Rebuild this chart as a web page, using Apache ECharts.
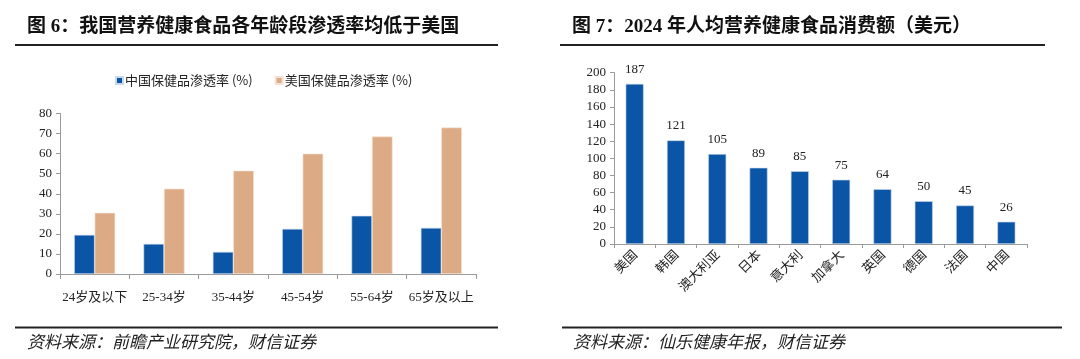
<!DOCTYPE html>
<html>
<head>
<meta charset="utf-8">
<script src="https://cdn.jsdelivr.net/npm/echarts@6/dist/echarts.min.js"></script>
<style>
html,body{margin:0;padding:0;background:#fff;}
#c{width:1080px;height:359px;}
</style>
</head>
<body>
<div id="c"></div>
<script>
// Figure 6 data
const ageGroups = ['24岁及以下', '25-34岁', '35-44岁', '45-54岁', '55-64岁', '65岁及以上'];
const chinaRate = [19.5, 15, 11, 22.5, 29, 23];
const usRate = [30.5, 42.5, 51.5, 60, 68.5, 73];
const seriesNames = ['中国保健品渗透率 (%)', '美国保健品渗透率 (%)'];
const leftTicks = {min: 0, max: 80, interval: 10};

// Figure 7 data
const countries = ['美国', '韩国', '澳大利亚', '日本', '意大利', '加拿大', '英国', '德国', '法国', '中国'];
const spend = [187, 121, 105, 89, 85, 75, 64, 50, 45, 26];
const rightTicks = {min: 0, max: 200, interval: 20};

const title6 = '图 6：我国营养健康食品各年龄段渗透率均低于美国';
const title7 = '图 7：2024 年人均营养健康食品消费额（美元）';
const source6 = '资料来源：前瞻产业研究院，财信证券';
const source7 = '资料来源：仙乐健康年报，财信证券';

const BLUE = '#0b55a6';
const TAN = '#dcaa84';
const AX = '#9a9a9a';
const FONT = "'Liberation Serif', 'Noto Sans CJK SC', serif";

const chart = echarts.init(document.getElementById('c'));

function axisCommon() {
  return {
    axisLine: {show: true, lineStyle: {color: AX, width: 1}},
    axisTick: {show: true, lineStyle: {color: AX}, length: 4},
    splitLine: {show: false}
  };
}

chart.setOption({
  animation: false,
  backgroundColor: '#fff',
  legend: {
    data: seriesNames,
    left: 110,
    top: 69,
    itemWidth: 7,
    itemHeight: 7,
    itemGap: 22,
    icon: 'rect',
    textStyle: {fontFamily: "'Noto Sans CJK SC', sans-serif", fontSize: 13, color: '#222', padding: [0, 0, 0, -3]}
  },
  grid: [
    {left: 60, top: 113.5, width: 416, height: 160.5},
    {left: 614, top: 72.7, width: 413, height: 171.3}
  ],
  xAxis: [
    Object.assign(axisCommon(), {
      gridIndex: 0, type: 'category', data: ageGroups,
      axisTick: {show: true, alignWithLabel: false, lineStyle: {color: AX}, length: 5},
      axisLabel: {fontFamily: FONT, fontSize: 13, color: '#222', margin: 17, interval: 0}
    }),
    Object.assign(axisCommon(), {
      gridIndex: 1, type: 'category', data: countries,
      axisTick: {show: true, lineStyle: {color: AX}, length: 4},
      axisLabel: {fontFamily: "'Noto Sans CJK SC', sans-serif", fontSize: 13, color: '#222', rotate: 45, margin: 8, interval: 0}
    })
  ],
  yAxis: [
    Object.assign(axisCommon(), {
      gridIndex: 0, type: 'value', min: leftTicks.min, max: leftTicks.max, interval: leftTicks.interval,
      axisLabel: {fontFamily: FONT, fontSize: 13, color: '#222', margin: 8}
    }),
    Object.assign(axisCommon(), {
      gridIndex: 1, type: 'value', min: rightTicks.min, max: rightTicks.max, interval: rightTicks.interval,
      axisLabel: {fontFamily: FONT, fontSize: 13, color: '#222', margin: 8}
    })
  ],
  series: [
    {
      name: seriesNames[0], type: 'bar', xAxisIndex: 0, yAxisIndex: 0,
      data: chinaRate, barWidth: 20.5, barGap: '0%',
      itemStyle: {color: BLUE, borderColor: '#c9d8ea', borderWidth: 0.6}
    },
    {
      name: seriesNames[1], type: 'bar', xAxisIndex: 0, yAxisIndex: 0,
      data: usRate, barWidth: 20.5, barGap: '0%',
      itemStyle: {color: TAN, borderColor: '#f3e2d4', borderWidth: 0.6}
    },
    {
      name: '人均消费额', type: 'bar', xAxisIndex: 1, yAxisIndex: 1,
      data: spend, barWidth: 18,
      itemStyle: {color: BLUE, borderColor: '#c9d8ea', borderWidth: 0.6},
      label: {show: true, position: 'top', distance: 8, fontFamily: FONT, fontSize: 13, color: '#222'}
    }
  ],
  graphic: [
    {type: 'text', left: 27, top: 18, style: {text: title6, font: "bold 19px 'Liberation Serif', 'Noto Sans CJK SC', serif", fill: '#111'}},
    {type: 'line', shape: {x1: 15, y1: 45, x2: 498, y2: 45}, style: {stroke: '#222', lineWidth: 2}},
    {type: 'line', shape: {x1: 15, y1: 327.5, x2: 498, y2: 327.5}, style: {stroke: '#222', lineWidth: 2}},
    {type: 'text', left: 27, top: 333, style: {text: source6, font: "italic 17px 'Noto Sans CJK SC', sans-serif", fill: '#222'}},
    {type: 'text', left: 572, top: 18, style: {text: title7, font: "bold 19px 'Liberation Serif', 'Noto Sans CJK SC', serif", fill: '#111'}},
    {type: 'line', shape: {x1: 560, y1: 45, x2: 1045, y2: 45}, style: {stroke: '#222', lineWidth: 2}},
    {type: 'line', shape: {x1: 562, y1: 327.5, x2: 1062, y2: 327.5}, style: {stroke: '#222', lineWidth: 2}},
    {type: 'text', left: 573, top: 333, style: {text: source7, font: "italic 17px 'Noto Sans CJK SC', sans-serif", fill: '#222'}}
  ]
});
</script>
</body>
</html>
